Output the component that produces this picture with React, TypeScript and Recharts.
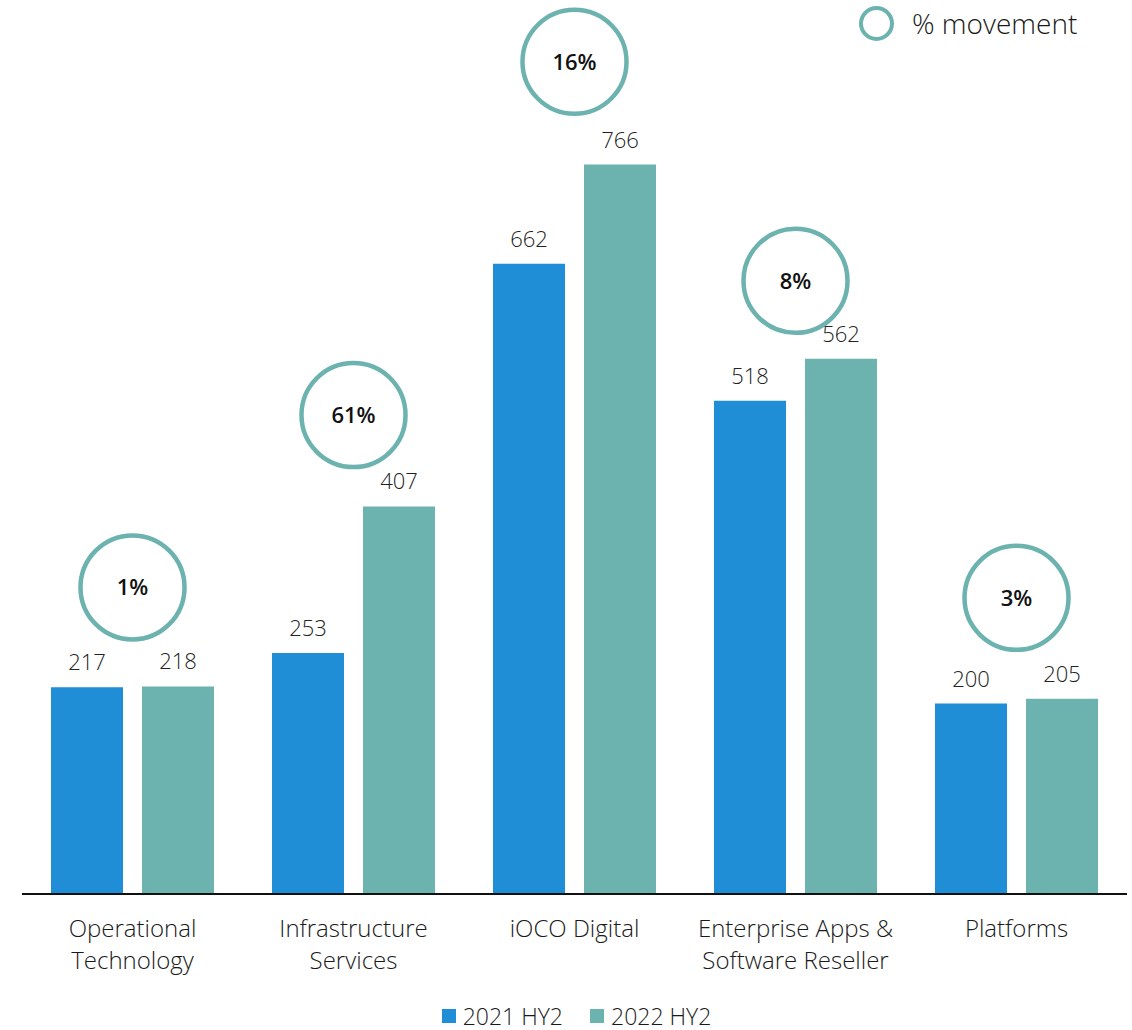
import {
  ComposedChart,
  Bar,
  Scatter,
  XAxis,
  YAxis,
  LabelList,
  Legend,
} from "recharts";

const categories = [
  "Operational Technology",
  "Infrastructure Services",
  "iOCO Digital",
  "Enterprise Apps & Software Reseller",
  "Platforms",
];
const tickLines = [
  ["Operational", "Technology"],
  ["Infrastructure", "Services"],
  ["iOCO Digital"],
  ["Enterprise Apps &", "Software Reseller"],
  ["Platforms"],
];
const hy2021 = [217, 253, 662, 518, 200];
const hy2022 = [218, 407, 766, 562, 205];
const movement = ["1%", "61%", "16%", "8%", "3%"];
// height (in value units) at which each movement bubble sits
const bubbleLevel = [322, 503, 874, 644, 311];

const BLUE = "#1F8ED6";
const TEAL = "#6CB3AF";
const FONT = "'Open Sans', sans-serif";

const data = categories.map((name, i) => ({
  name,
  y2021: hy2021[i],
  y2022: hy2022[i],
  pct: movement[i],
  bubble: bubbleLevel[i],
}));

function CategoryTick(props: any) {
  const { x, y, payload, index } = props;
  const lines = tickLines[index] ?? [payload.value];
  return (
    <text
      x={x}
      y={y}
      textAnchor="middle"
      fontFamily={FONT}
      fontSize={24}
      fontWeight={300}
      fill="#1a1a1a"
    >
      {lines.map((l: string, i: number) => (
        <tspan key={i} x={x} dy={i === 0 ? 35 : 32}>
          {l}
        </tspan>
      ))}
    </text>
  );
}

function Bubble(props: any) {
  const { cx, cy, payload } = props;
  return (
    <g>
      <circle cx={cx} cy={cy} r={52} fill="none" stroke={TEAL} strokeWidth={4.5} />
      <text
        x={cx}
        y={cy}
        dy={8}
        textAnchor="middle"
        fontFamily={FONT}
        fontSize={22}
        fontWeight={600}
        fill="#111"
      >
        {payload.pct}
      </text>
    </g>
  );
}

function BottomLegend() {
  const items = [
    { label: "2021 HY2", color: BLUE },
    { label: "2022 HY2", color: TEAL },
  ];
  return (
    <div
      style={{
        display: "flex",
        justifyContent: "center",
        gap: 27,
        height: 36,
        boxSizing: "border-box",
        paddingTop: 8,
        alignItems: "center",
        fontFamily: FONT,
        fontSize: 23,
        lineHeight: "26px",
        fontWeight: 300,
        color: "#1a1a1a",
        paddingLeft: 4,
      }}
    >
      {items.map((it) => (
        <div key={it.label} style={{ display: "flex", alignItems: "center", gap: 7 }}>
          <span style={{ width: 14, height: 14, background: it.color, display: "inline-block" }} />
          <span>{it.label}</span>
        </div>
      ))}
    </div>
  );
}

export default function App() {
  return (
    <div style={{ position: "relative", width: 1132, height: 1030, background: "#fff" }}>
      <style>{"body{margin:0}"}</style>
      <ComposedChart
        width={1132}
        height={1030}
        data={data}
        margin={{ top: 37, right: 5, bottom: 0, left: 22 }}
        barCategoryGap={29}
        barGap={19}
      >
        <XAxis
          dataKey="name"
          tick={<CategoryTick />}
          tickLine={false}
          axisLine={{ stroke: "#111", strokeWidth: 2 }}
          interval={0}
          height={100}
        />
        <YAxis hide domain={[0, 900]} />
        <Scatter dataKey="bubble" shape={<Bubble />} isAnimationActive={false} legendType="none" />
        <Bar dataKey="y2021" name="2021 HY2" fill={BLUE} isAnimationActive={false}>
          <LabelList
            dataKey="y2021"
            position="top"
            offset={17}
            fontFamily={FONT}
            fontSize={22}
            fontWeight={300}
            fill="#222"
          />
        </Bar>
        <Bar dataKey="y2022" name="2022 HY2" fill={TEAL} isAnimationActive={false}>
          <LabelList
            dataKey="y2022"
            position="top"
            offset={17}
            fontFamily={FONT}
            fontSize={22}
            fontWeight={300}
            fill="#222"
          />
        </Bar>
        <Legend verticalAlign="bottom" content={<BottomLegend />} />
      </ComposedChart>
      <div
        style={{
          position: "absolute",
          top: 4,
          left: 859,
          display: "flex",
          alignItems: "center",
          gap: 18,
          fontFamily: FONT,
          fontSize: 28,
          fontWeight: 300,
          color: "#1a1a1a",
        }}
      >
        <span
          style={{
            width: 27,
            height: 27,
            borderRadius: "50%",
            border: `4.5px solid ${TEAL}`,
            display: "inline-block",
          }}
        />
        <span>% movement</span>
      </div>
    </div>
  );
}
